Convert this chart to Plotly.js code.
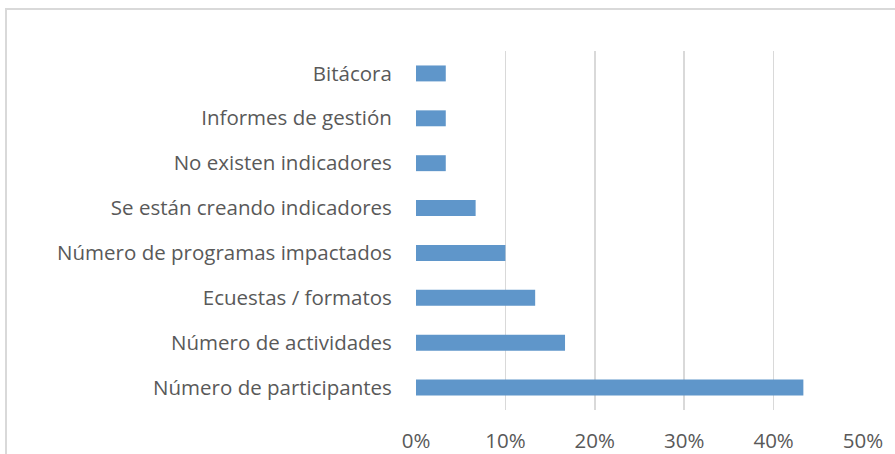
<!DOCTYPE html>
<html>
<head>
<meta charset="utf-8">
<script src="https://cdn.plot.ly/plotly-3.0.1.min.js"></script>
<style>
html,body{margin:0;padding:0;background:#fff;}
#chart{width:895px;height:454px;}
#frame{position:absolute;left:5px;top:8px;width:1000px;height:1000px;border:2px solid #D9D9D9;pointer-events:none;box-sizing:border-box;}
</style>
</head>
<body>
<div id="chart"></div>
<div id="frame"></div>
<script>
const categories = [
  "Bitácora",
  "Informes de gestión",
  "No existen indicadores",
  "Se están creando indicadores",
  "Número de programas impactados",
  "Ecuestas / formatos",
  "Número de actividades",
  "Número de participantes"
];
const values = [0.0333, 0.0333, 0.0333, 0.0667, 0.10, 0.1333, 0.1667, 0.4333];
const tickVals = [0, 0.1, 0.2, 0.3, 0.4, 0.5];
const tickText = ["0%", "10%", "20%", "30%", "40%", "50%"];

const trace = {
  type: "bar",
  orientation: "h",
  x: values,
  y: categories,
  marker: {color: "#5F96CA", line: {width: 0}},
  hoverinfo: "none"
};

const layout = {
  width: 895,
  height: 454,
  margin: {l: 416, r: 32, t: 50.5, b: 43.5, pad: 0},
  paper_bgcolor: "#fff",
  plot_bgcolor: "#fff",
  bargap: 0.645,
  showlegend: false,
  font: {family: "Open Sans, sans-serif", size: 20.5, color: "#595959"},
  xaxis: {
    range: [0, 0.5],
    tickvals: tickVals,
    ticktext: tickText,
    showgrid: true,
    gridcolor: "#D9D9D9",
    gridwidth: 1.5,
    zeroline: false,
    showline: false,
    ticks: "outside",
    ticklen: 12,
    tickcolor: "rgba(0,0,0,0)",
    tickfont: {size: 20.5, color: "#595959"},
    fixedrange: true
  },
  yaxis: {
    type: "category",
    autorange: "reversed",
    showgrid: false,
    zeroline: false,
    showline: false,
    ticks: "outside",
    ticklen: 19,
    tickcolor: "rgba(0,0,0,0)",
    tickfont: {size: 20.5, color: "#595959"},
    fixedrange: true
  }
};

Plotly.newPlot("chart", [trace], layout, {staticPlot: true, displayModeBar: false});
</script>
</body>
</html>
